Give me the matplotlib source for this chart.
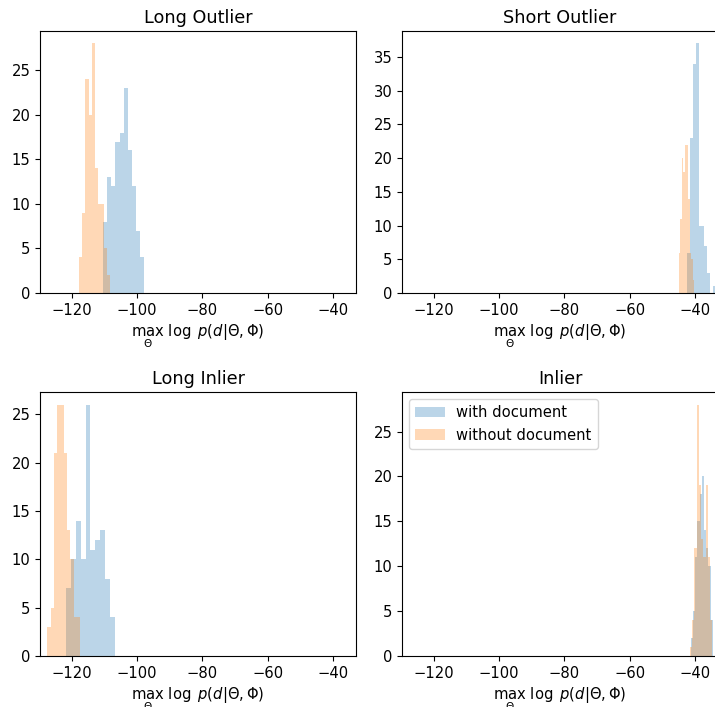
import numpy as np
import matplotlib
matplotlib.use("Agg")
import matplotlib.pyplot as plt

plt.rcParams["font.size"] = 10.6

# ---- data (bin counts and value ranges) ----
titles = ["Long Outlier", "Short Outlier", "Long Inlier", "Inlier"]
series_labels = ["with document", "without document"]

long_outlier_with = [8, 13, 12, 17, 18, 23, 16, 12, 7, 4]
long_outlier_with_range = (-110.4, -97.9)
long_outlier_without = [4, 9, 24, 20, 28, 14, 10, 10, 5, 2]
long_outlier_without_range = (-117.8, -108.2)

short_outlier_with = [6, 23, 34, 37, 10, 10, 7, 3, 0, 1]
short_outlier_with_range = (-42.3, -33.7)
short_outlier_without = [6, 11, 20, 18, 22, 22, 14, 6, 5, 2]
short_outlier_without_range = (-44.9, -40.2)

long_inlier_with = [7, 10, 14, 10, 26, 11, 12, 13, 8, 4]
long_inlier_with_range = (-121.8, -106.9)
long_inlier_without = [3, 5, 21, 26, 26, 21, 13, 10, 4, 4]
long_inlier_without_range = (-127.6, -117.4)

inlier_with = [2, 5, 11, 15, 18, 20, 14, 12, 10, 4]
inlier_with_range = (-41.2, -34.5)
inlier_without = [1, 4, 12, 28, 19, 13, 11, 19, 11, 4]
inlier_without_range = (-41.5, -34.6)

x_limits = (-129.8, -32.9)
x_ticks = [-120, -100, -80, -60, -40]
x_label = r"$\max_{\Theta}\ \log\ p(d|\Theta, \Phi)$"

panels = [
    (long_outlier_with, long_outlier_with_range, long_outlier_without, long_outlier_without_range),
    (short_outlier_with, short_outlier_with_range, short_outlier_without, short_outlier_without_range),
    (long_inlier_with, long_inlier_with_range, long_inlier_without, long_inlier_without_range),
    (inlier_with, inlier_with_range, inlier_without, inlier_without_range),
]

W, H = 715, 707
fig = plt.figure(figsize=(W / 100, H / 100), dpi=100)

# axes boxes in pixels: (left, top, right, bottom)
boxes = [(40, 31, 356, 293), (402, 31, 718, 293),
         (40, 392, 356, 656), (402, 392, 718, 656)]

for i, (box, title, pdata) in enumerate(zip(boxes, titles, panels)):
    l, t, r, b = box
    ax = fig.add_axes([l / W, (H - b) / H, (r - l) / W, (b - t) / H])
    c_with, rng_with, c_without, rng_without = pdata
    e_with = np.linspace(rng_with[0], rng_with[1], len(c_with) + 1)
    e_without = np.linspace(rng_without[0], rng_without[1], len(c_without) + 1)
    ax.stairs(c_with, e_with, fill=True, alpha=0.3, color="C0", label=series_labels[0])
    ax.stairs(c_without, e_without, fill=True, alpha=0.3, color="C1", label=series_labels[1])
    ax.set_xlim(*x_limits)
    ax.set_ylim(0, max(max(c_with), max(c_without)) * 1.05)
    ax.set_title(title)
    ax.set_xlabel(x_label)
    ax.set_xticks(x_ticks)
    if i == 3:
        ax.legend(loc="upper left")

fig.savefig("out.png", dpi=100)
